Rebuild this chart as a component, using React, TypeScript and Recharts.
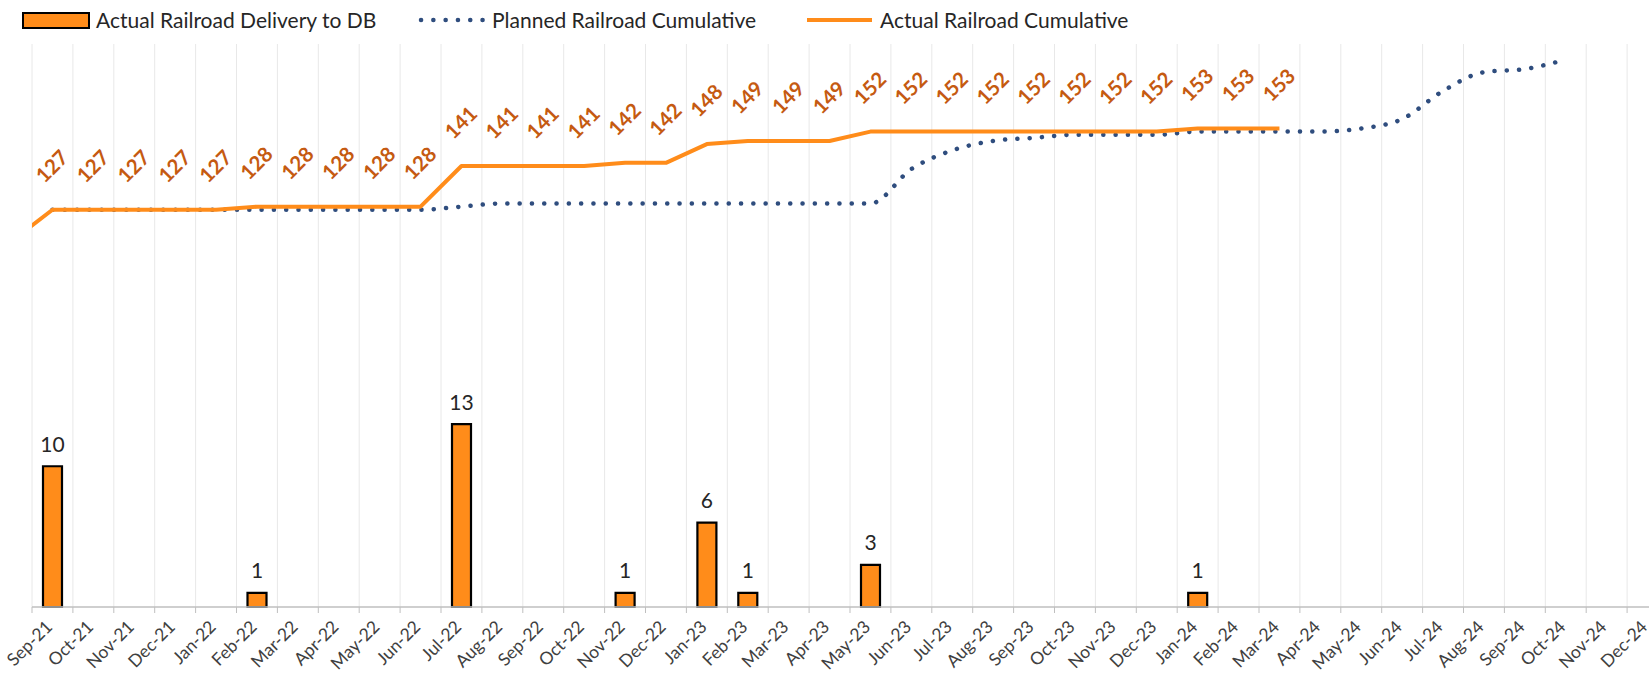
import React from 'react';
import { ComposedChart, Bar, Line, XAxis, YAxis, CartesianGrid, LabelList } from 'recharts';

const MONTHS = [
  'Sep-21', 'Oct-21', 'Nov-21', 'Dec-21', 'Jan-22', 'Feb-22', 'Mar-22', 'Apr-22', 'May-22', 'Jun-22',
  'Jul-22', 'Aug-22', 'Sep-22', 'Oct-22', 'Nov-22', 'Dec-22', 'Jan-23', 'Feb-23', 'Mar-23', 'Apr-23',
  'May-23', 'Jun-23', 'Jul-23', 'Aug-23', 'Sep-23', 'Oct-23', 'Nov-23', 'Dec-23', 'Jan-24', 'Feb-24',
  'Mar-24', 'Apr-24', 'May-24', 'Jun-24', 'Jul-24', 'Aug-24', 'Sep-24', 'Oct-24', 'Nov-24', 'Dec-24',
];

// monthly deliveries (null = none that month)
const DELIVERY = [
  10, null, null, null, null, 1, null, null, null, null,
  13, null, null, null, 1, null, 6, 1, null, null,
  3, null, null, null, null, null, null, null, 1, null,
];

const PLANNED = [
  127, 127, 127, 127, 127, 127, 127, 127, 127, 127,
  128, 129, 129, 129, 129, 129, 129, 129, 129, 129,
  129, 140, 146, 149, 150, 151, 151, 151, 152, 152,
  152, 152, 153, 156, 165, 171, 172, 175,
];

const ACTUAL = [
  127, 127, 127, 127, 127, 128, 128, 128, 128, 128,
  141, 141, 141, 141, 142, 142, 148, 149, 149, 149,
  152, 152, 152, 152, 152, 152, 152, 152, 153, 153,
  153,
];

// Aug-21 cumulative, sits just left of the visible window
const ACTUAL_PRIOR = 117;

const TICKS = Array.from({ length: MONTHS.length + 1 }, (_, i) => i);

const rows = [
  { t: -0.5, actual: ACTUAL_PRIOR },
  ...MONTHS.map((m, i) => ({
    t: i + 0.5,
    month: m,
    delivery: DELIVERY[i] ?? null,
    planned: PLANNED[i] ?? null,
    actual: ACTUAL[i] ?? null,
  })),
];

const W = 1680;
const H = 676;
const M = { top: 44, right: 12, left: 32, bottom: 0 };
const HALF = (W - M.left - M.right) / MONTHS.length / 2;

const ORANGE = '#FF8C1A';
const NAVY = '#2F4D7E';
const FONT = 'Lato, "Open Sans", sans-serif';

const MonthTick = (props: any) => {
  const { x, y, payload } = props;
  const i = payload.value;
  if (i >= MONTHS.length) return null;
  const tx = x + HALF + 1;
  const ty = y + 13;
  return (
    <text x={tx} y={ty} textAnchor="end" transform={`rotate(-45, ${tx}, ${ty})`}
      fontSize={17.5} fill="#404040" fontFamily={FONT}>
      {MONTHS[i]}
    </text>
  );
};

const BarLabel = (props: any) => {
  const { x, y, width, value } = props;
  if (value == null) return null;
  return (
    <text x={x + width / 2} y={y - 23} textAnchor="middle" dominantBaseline="central"
      fontSize={21} fill="#262626" fontFamily={FONT}>
      {value}
    </text>
  );
};

const ActualLabel = (props: any) => {
  const { x, y, value, index } = props;
  if (value == null || index === 0) return null;
  const cx = x - 1;
  const cy = y - 44;
  return (
    <text x={cx} y={cy} textAnchor="middle" dominantBaseline="central"
      transform={`rotate(-45, ${cx}, ${cy})`}
      fontSize={20.5} fontWeight={700} fill="#C55A11" fontFamily={FONT}>
      {value}
    </text>
  );
};

const LegendBar = () => (
  <div style={{ position: 'absolute', left: 0, top: 0, width: 1649, height: 40, fontFamily: FONT, fontSize: 21, color: '#262626' }}>
    <div style={{ position: 'absolute', left: 22, top: 12, width: 68, height: 17, background: ORANGE, border: '2px solid #000', boxSizing: 'border-box' }} />
    <span style={{ position: 'absolute', left: 96, top: 8, lineHeight: '24px', whiteSpace: 'nowrap' }}>Actual Railroad Delivery to DB</span>
    <svg style={{ position: 'absolute', left: 415, top: 15 }} width={74} height={10}>
      <line x1={6} y1={5} x2={68} y2={5} stroke={NAVY} strokeWidth={4.5} strokeLinecap="round" strokeDasharray="0.1 12.2" />
    </svg>
    <span style={{ position: 'absolute', left: 492, top: 8, lineHeight: '24px', whiteSpace: 'nowrap' }}>Planned Railroad Cumulative</span>
    <div style={{ position: 'absolute', left: 807, top: 18, width: 65, height: 4, background: ORANGE }} />
    <span style={{ position: 'absolute', left: 880, top: 8, lineHeight: '24px', whiteSpace: 'nowrap' }}>Actual Railroad Cumulative</span>
  </div>
);

export default function App() {
  return (
    <div style={{ position: 'absolute', left: 0, top: 0, width: 1649, height: H, overflow: 'hidden', background: '#fff', fontFamily: FONT }}>
      <ComposedChart width={W} height={H} data={rows} margin={M}>
        <CartesianGrid horizontal={false} stroke="#E8E8E8" />
        <XAxis
          type="number"
          dataKey="t"
          domain={[0, MONTHS.length]}
          ticks={TICKS}
          interval={0}
          allowDataOverflow
          height={69}
          tickSize={6}
          tick={<MonthTick />}
          tickLine={{ stroke: '#BFBFBF' }}
          axisLine={{ stroke: '#BFBFBF', strokeWidth: 1.5 }}
        />
        <YAxis yAxisId="bar" domain={[0, 40]} hide />
        <YAxis yAxisId="line" domain={[0, 180]} hide />
        <Bar yAxisId="bar" dataKey="delivery" barSize={19} fill={ORANGE} stroke="#000" strokeWidth={2.2} isAnimationActive={false}>
          <LabelList dataKey="delivery" content={<BarLabel />} />
        </Bar>
        <Line yAxisId="line" type="monotone" dataKey="planned" stroke={NAVY} strokeWidth={4.5}
          strokeLinecap="round" strokeDasharray="0.1 12.2" dot={false} activeDot={false} isAnimationActive={false} />
        <Line yAxisId="line" type="linear" dataKey="actual" stroke={ORANGE} strokeWidth={4}
          strokeLinejoin="round" dot={false} activeDot={false} isAnimationActive={false}>
          <LabelList dataKey="actual" content={<ActualLabel />} />
        </Line>
      </ComposedChart>
      <LegendBar />
    </div>
  );
}
